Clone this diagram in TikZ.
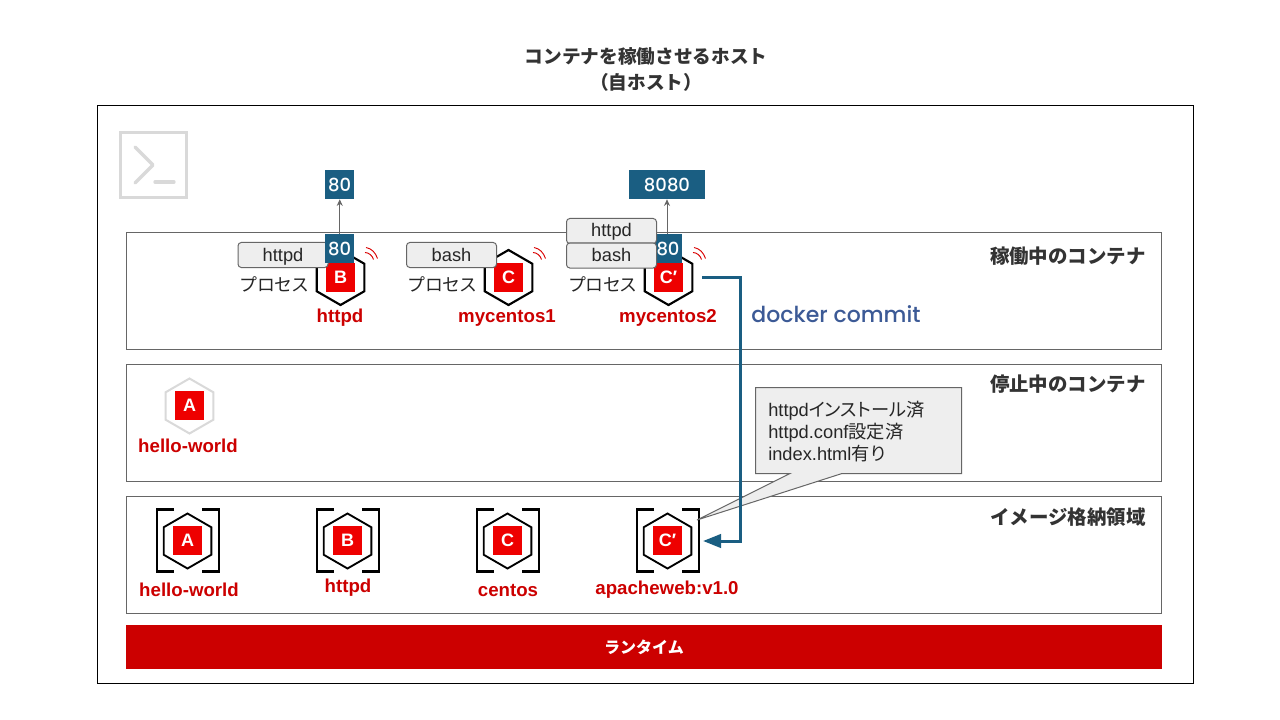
\documentclass[tikz,border=0pt]{standalone}
\usepackage{fontspec}
\setmainfont{Liberation Sans}
\newfontfamily\cjk{Noto Sans CJK JP}
\newfontfamily\cjkp[RawFeature=+palt]{Noto Sans CJK JP}
\newfontfamily\popf[UprightFont=* Medium]{Poppins}
\usetikzlibrary{shapes.geometric,arrows.meta}
\definecolor{tblue}{HTML}{1A5E82}
\definecolor{cblue}{HTML}{3C5A96}
\definecolor{lred}{HTML}{CC0000}
\definecolor{sred}{HTML}{EE0000}
\definecolor{lgrey}{HTML}{D9D9D9}
\definecolor{fgrey}{HTML}{EEEEEE}
\definecolor{dgrey}{HTML}{666666}
\definecolor{ttl}{HTML}{333333}
\tikzset{
  lane/.style={draw=dgrey,line width=0.75pt,fill=none},
  hexn/.style={regular polygon,regular polygon sides=6,shape border rotate=30,minimum size=41.25pt,inner sep=0pt,outer sep=0pt,draw=black,line width=1.6pt},
  hexi/.style={hexn,line width=1.4pt},
  hexg/.style={hexn,draw=lgrey,line width=1.5pt},
  sq/.style={fill=sred,text=white,minimum size=21.75pt,inner sep=0pt,font=\fontsize{13.5}{16}\selectfont\bfseries},
  port/.style={fill=tblue,text=white,minimum height=21.75pt,minimum width=21.5pt,inner sep=0pt,font=\fontsize{13.5}{16}\selectfont\popf},
  proc/.style={draw=dgrey,fill=fgrey,rounded corners=2.5pt,line width=0.75pt,minimum width=67.5pt,minimum height=18.75pt,inner sep=0pt,text height=12pt,text depth=3pt,font=\fontsize{13.7}{16}\selectfont,text=black!85},
  plab/.style={font=\fontsize{13.4}{16}\selectfont\cjkp,text=black!85},
  rlab/.style={font=\fontsize{14}{16}\selectfont\bfseries,text=lred},
  lanet/.style={anchor=east,inner sep=0pt,font=\fontsize{14.6}{18}\selectfont\cjk\bfseries,text=ttl},
  wifi/.style={draw=red!85!black,line width=0.7pt},
  brk/.style={draw=black,line width=2.2pt},
  parr/.style={draw=dgrey,line width=0.75pt,-{Stealth[length=5pt,width=4.5pt]}}
}
\newcommand{\wifiarcs}[2]{%
  \draw[wifi] (#1+25.5,#2-29.5) .. controls (#1+31,#2-28.5) and (#1+35,#2-24.5) .. (#1+37,#2-18.5);
  \draw[wifi] (#1+24.5,#2-24.5) .. controls (#1+28,#2-24.5) and (#1+32,#2-21.5) .. (#1+33,#2-17.5);
}
\newcommand{\brackets}[1]{%
  \draw[brk] (#1-14,509.5) -- (#1-31,509.5) -- (#1-31,571.5) -- (#1-14,571.5);
  \draw[brk] (#1+14,509.5) -- (#1+31,509.5) -- (#1+31,571.5) -- (#1+14,571.5);
}
\begin{document}
\begin{tikzpicture}[x=0.75pt,y=-0.75pt]
\useasboundingbox[fill=white] (0,0) rectangle (1280,720);
% title
\node[font=\fontsize{14}{19.5}\selectfont\cjk\bfseries,text=ttl,align=center] (title) at (646,69.5) {コンテナを稼働させるホスト\\（自ホスト）};
% frames
\draw[draw=black,line width=0.75pt] (97.5,105.5) rectangle (1193.5,683.5);
\draw[lane] (126.5,232.5) rectangle (1161.5,349.5);
\draw[lane] (126.5,364.5) rectangle (1161.5,481.5);
\draw[lane] (126.5,496.5) rectangle (1161.5,613.5);
\node[fill=lred,text=white,minimum width=777pt,minimum height=33pt,inner sep=0pt,font=\fontsize{12}{15}\selectfont\cjk\bfseries] (runtime) at (644,647) {ランタイム};
\node[lanet] (t1) at (1146,256) {稼働中のコンテナ};
\node[lanet] (t2) at (1146,384) {停止中のコンテナ};
\node[lanet] (t3) at (1146,517) {イメージ格納領域};
% terminal icon
\draw[lgrey,line width=2.5pt] (120.5,132.5) rectangle (186.5,197.5);
\draw[lgrey,line width=2.5pt,line cap=round,line join=round] (135,147) -- (153,165) -- (135,183);
\draw[lgrey,line width=2.5pt,line cap=round] (155,182) -- (174,182);
% running: httpd
\node[hexn] (hB) at (340.5,277.5) {};
\node[sq] (sB) at (340.5,277.5) {B};
\wifiarcs{340.5}{277}
\node[proc] (pB) at (283,255) {httpd};
\node[port] (pa) at (339.75,248.5) {80};
\node[port] (pb) at (339.75,184.5) {80};
\draw[parr] (pa) -- (pb);
\node[plab] (lB) at (274.5,284) {プロセス};
\node[rlab] (nB) at (340,318) {httpd};
% running: mycentos1
\node[hexn] (hC) at (508.5,277.5) {};
\node[sq] (sC) at (508.5,277.5) {C};
\wifiarcs{508.5}{277}
\node[proc] (pC) at (451.5,255) {bash};
\node[plab] (lC) at (442.5,284) {プロセス};
\node[rlab] (nC) at (507,318) {mycentos1};
% running: mycentos2
\node[hexn] (hD) at (668.5,277.5) {};
\node[sq] (sD) at (668.5,277.5) {C′};
\wifiarcs{668.5}{277}
\node[port] (pc) at (668,248.5) {80};
\node[port,minimum width=57pt] (pd) at (667,184.5) {8080};
\draw[parr] (pc.north -| pd) -- (pd);
\node[proc] (pD1) at (611.5,231) {httpd};
\node[proc] (pD2) at (611.5,255.5) {bash};
\node[plab] (lD) at (603,284) {プロセス};
\node[rlab] (nD) at (668,318) {mycentos2};
% stopped
\node[hexg] (hA) at (189.5,406) {};
\node[sq] (sA) at (189.5,405.5) {A};
\node[rlab] (nA) at (188,446) {hello-world};
% images
\brackets{188}
\node[hexi] (iA) at (187.5,541) {};
\node[sq] (isA) at (187.5,540.5) {A};
\node[rlab] (inA) at (189,590) {hello-world};
\brackets{348}
\node[hexi] (iB) at (347.5,541) {};
\node[sq] (isB) at (347.5,540.5) {B};
\node[rlab] (inB) at (348,588) {httpd};
\brackets{508}
\node[hexi] (iC) at (507.5,541) {};
\node[sq] (isC) at (507.5,540.5) {C};
\node[rlab] (inC) at (508,590) {centos};
\brackets{668}
\node[hexi] (iD) at (667.5,541) {};
\node[sq] (isD) at (667.5,540.5) {C′};
\node[rlab] (inD) at (667,590) {apacheweb:v1.0};
% callout
\draw[draw=dgrey,fill=fgrey,line width=0.75pt] (755.5,387.5) -- (961.5,387.5) -- (961.5,473.5) -- (842,473.5) -- (697,520) -- (790,473.5) -- (755.5,473.5) -- cycle;
\node[anchor=north west,align=left,inner sep=0pt,font=\fontsize{13.7}{16.5}\selectfont,text=black!85] (note) at (768,401) {httpd{\cjkp インストール}{\cjk 済}\\httpd.conf{\cjk 設定済}\\index.html{\cjk 有り}};
% commit
\coordinate (cs) at (702,277);
\coordinate (ce) at (703,541);
\draw[tblue,line width=2.25pt,-{Triangle[length=13.5pt,width=10pt]}] (cs) -- (740.5,277) -- (740.5,541) -- (ce);
\node[font=\fontsize{16.5}{22}\selectfont\popf,text=cblue] (dc) at (836,314) {docker commit};
\end{tikzpicture}
\end{document}
